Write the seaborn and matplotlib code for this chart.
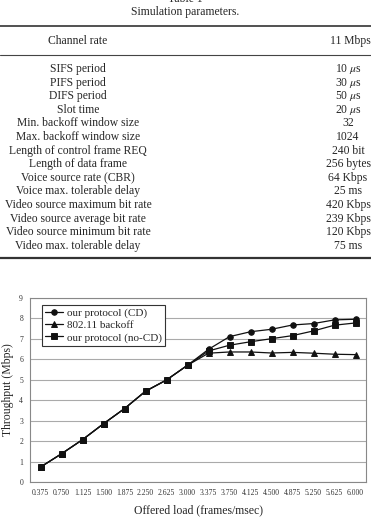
#!/usr/bin/env python3
"""Simulation parameter table plus throughput vs offered load chart."""

import pandas as pd
import matplotlib.pyplot as plt
import seaborn as sns
from matplotlib.lines import Line2D

# Table data
param_names = [
    "SIFS period", "PIFS period", "DIFS period", "Slot time",
    "Min. backoff window size", "Max. backoff window size",
    "Length of control frame REQ", "Length of data frame",
    "Voice source rate (CBR)", "Voice max. tolerable delay",
    "Video source maximum bit rate", "Video source average bit rate",
    "Video source minimum bit rate", "Video max. tolerable delay",
]
param_values = [
    r"10 $\mu$s", r"30 $\mu$s", r"50 $\mu$s", r"20 $\mu$s",
    "32", "1024", "240 bit", "256 bytes", "64 Kbps", "25 ms",
    "420 Kbps", "239 Kbps", "120 Kbps", "75 ms",
]

# Chart data
loads = ["0.375", "0.750", "1.125", "1.500", "1.875", "2.250", "2.625", "3.000",
         "3.375", "3.750", "4.125", "4.500", "4.875", "5.250", "5.625", "6.000"]
cd = [0.73, 1.38, 2.07, 2.85, 3.59, 4.44, 4.99, 5.71,
      6.49, 7.11, 7.35, 7.47, 7.68, 7.75, 7.93, 7.96]
backoff = [0.73, 1.38, 2.07, 2.85, 3.59, 4.44, 4.99, 5.71,
           6.30, 6.36, 6.36, 6.31, 6.34, 6.30, 6.25, 6.23]
no_cd = [0.73, 1.38, 2.07, 2.85, 3.59, 4.44, 4.99, 5.71,
         6.41, 6.69, 6.86, 7.01, 7.16, 7.39, 7.67, 7.78]
series_names = ["our protocol (CD)", "802.11 backoff", "our protocol (no-CD)"]

df = pd.concat([
    pd.DataFrame({"load": loads, "throughput": vals, "series": name})
    for name, vals in zip(series_names, [cd, backoff, no_cd])
])

sns.set_style("white")
plt.rcParams["font.family"] = ["Liberation Serif", "DejaVu Serif"]
plt.rcParams["mathtext.fontset"] = "stix"

W, H = 371, 520
fig = plt.figure(figsize=(W / 100, H / 100), dpi=100)


def fy(py):
    return 1 - py / H


def fx(px):
    return px / W


# --- Table ---
fs = 8.4
fig.text(fx(185), fy(-1), "Table 1", ha="center", va="center", fontsize=fs)
fig.text(fx(185), fy(12), "Simulation parameters.", ha="center", va="center", fontsize=fs)
fig.add_artist(Line2D([0, 1], [fy(26), fy(26)], color="#333333", lw=1.2))
fig.text(fx(78), fy(41), "Channel rate", ha="center", va="center", fontsize=fs)
fig.text(fx(350), fy(41), "11 Mbps", ha="center", va="center", fontsize=fs)
fig.add_artist(Line2D([0, 1], [fy(55), fy(55)], color="#444444", lw=0.8))
for i, (name, val) in enumerate(zip(param_names, param_values)):
    y = 69 + i * 13.6
    fig.text(fx(78), fy(y), name, ha="center", va="center", fontsize=fs)
    fig.text(fx(348), fy(y), val, ha="center", va="center", fontsize=fs)
fig.add_artist(Line2D([0, 1], [fy(258), fy(258)], color="#333333", lw=1.6))

# --- Chart ---
ax = fig.add_axes([fx(30), fy(482), fx(366) - fx(30), fy(298) - fy(482)])
sns.pointplot(
    data=df, x="load", y="throughput", hue="series", order=loads,
    hue_order=series_names, palette=["#111111"] * 3,
    markers=["o", "^", "s"], linestyles="-", errorbar=None,
    markersize=4, linewidth=0.9, ax=ax,
)

ax.set_ylim(0, 9)
ax.set_xlim(-0.5, len(loads) - 0.5)
ax.set_yticks(range(0, 10))
ax.yaxis.grid(True, color="#aaaaaa", lw=0.8)
ax.set_axisbelow(True)
ax.tick_params(axis="both", which="major", length=0, labelsize=5.5, pad=5, colors="#333333")
ax.set_xticks(range(len(loads)))
ax.set_xticklabels(loads)
ax.set_xticks([i + 0.5 for i in range(len(loads) - 1)], minor=True)
ax.tick_params(axis="x", which="minor", length=2, direction="in", color="#555555")
for s in ax.spines.values():
    s.set_color("#888888")
    s.set_linewidth(0.8)

ax.set_xlabel("Offered load (frames/msec)", fontsize=8.5, labelpad=5)
ax.set_ylabel("Throughput (Mbps)", fontsize=8.5, labelpad=4)

leg = ax.legend(
    loc="upper left", bbox_to_anchor=(0.036, 0.962), borderaxespad=0, fontsize=8,
    frameon=True, fancybox=False, edgecolor="#333333", framealpha=1,
    handlelength=1.6, handletextpad=0.3, borderpad=0.3, labelspacing=0.2,
)
leg.get_frame().set_linewidth(0.8)

plt.savefig("out.png", dpi=100, facecolor="white")
plt.close()
